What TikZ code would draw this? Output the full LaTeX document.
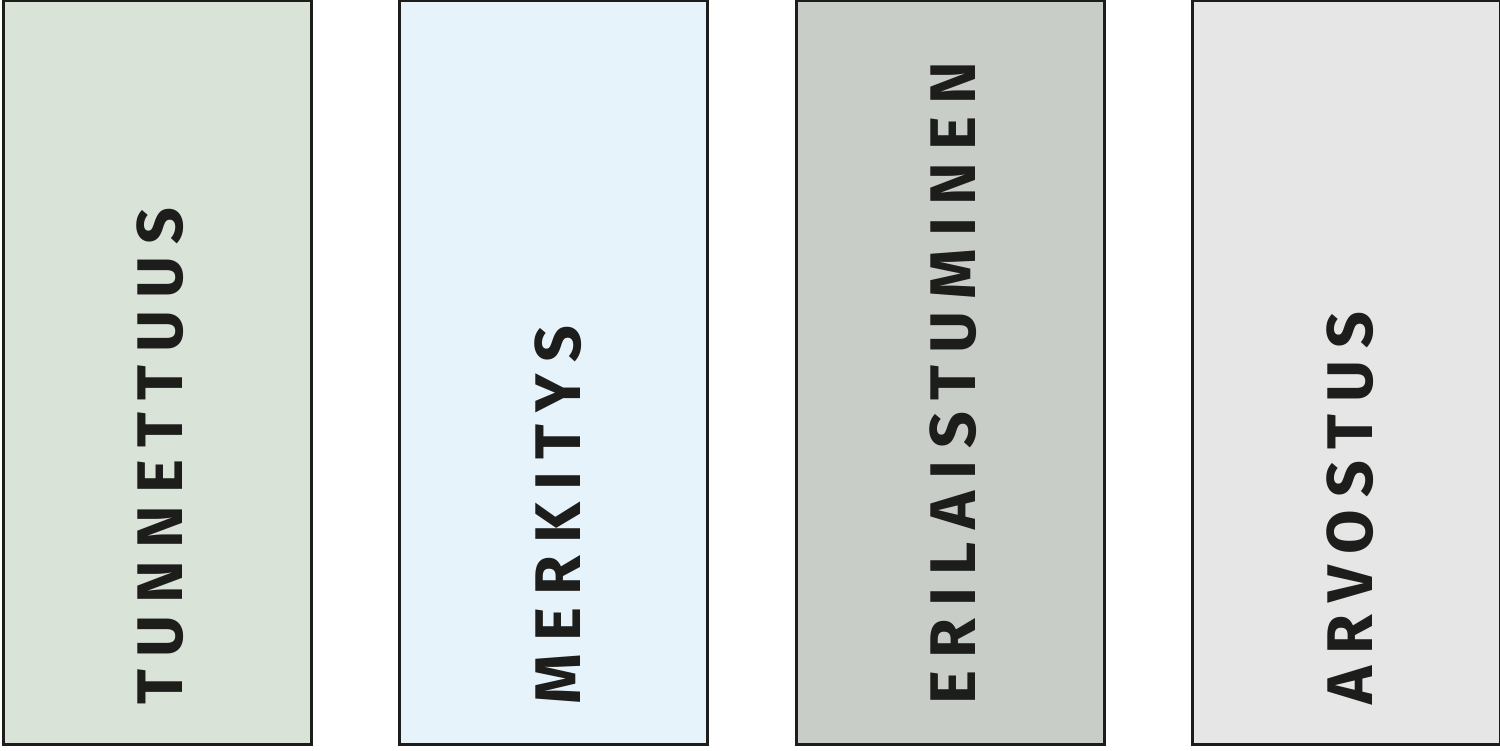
\documentclass[tikz,border=0pt]{standalone}
\usepackage{fontspec}
\setmainfont{Fira Sans}
\newfontfamily\labelfont[LetterSpace=19]{Fira Sans}
\usepackage{tikz}
\usetikzlibrary{positioning}

\definecolor{frame}{HTML}{1D1D1B}
\definecolor{sage}{HTML}{D9E3D8}
\definecolor{sky}{HTML}{E6F3FB}
\definecolor{stone}{HTML}{C8CDC8}
\definecolor{mist}{HTML}{E6E6E6}

\begin{document}
\begin{tikzpicture}[
    panel/.style={draw=frame, line width=1.8pt, minimum width=6.16cm,
                  minimum height=14.88cm, inner sep=0pt, anchor=south west},
    word/.style={rotate=90, anchor=base west, text=frame, inner sep=0pt,
                 font=\labelfont\bfseries\fontsize{36.7}{36.7}\selectfont}]
  \useasboundingbox (0,0) rectangle (30,15);

  \node[panel, fill=sage]  (tunnettuus)    at (0.04,0.08)  {};
  \node[panel, fill=sky]   (merkitys)      at (7.96,0.08)  {};
  \node[panel, fill=stone] (erilaistuminen) at (15.90,0.08) {};
  \node[panel, fill=mist]  (arvostus)      at (23.82,0.08) {};

  \node[word] (tunnettuuslabel) at (3.64,0.9)   {TUNNETTUUS};
  \node[word] (merkityslabel)   at (11.6,0.9)   {MERKITYS};
  \node[word] (erilaistuminenlabel) at (19.5,0.9) {ERILAISTUMINEN};
  \node[word] (arvostuslabel)   at (27.44,0.9)  {ARVOSTUS};
\end{tikzpicture}
\end{document}
